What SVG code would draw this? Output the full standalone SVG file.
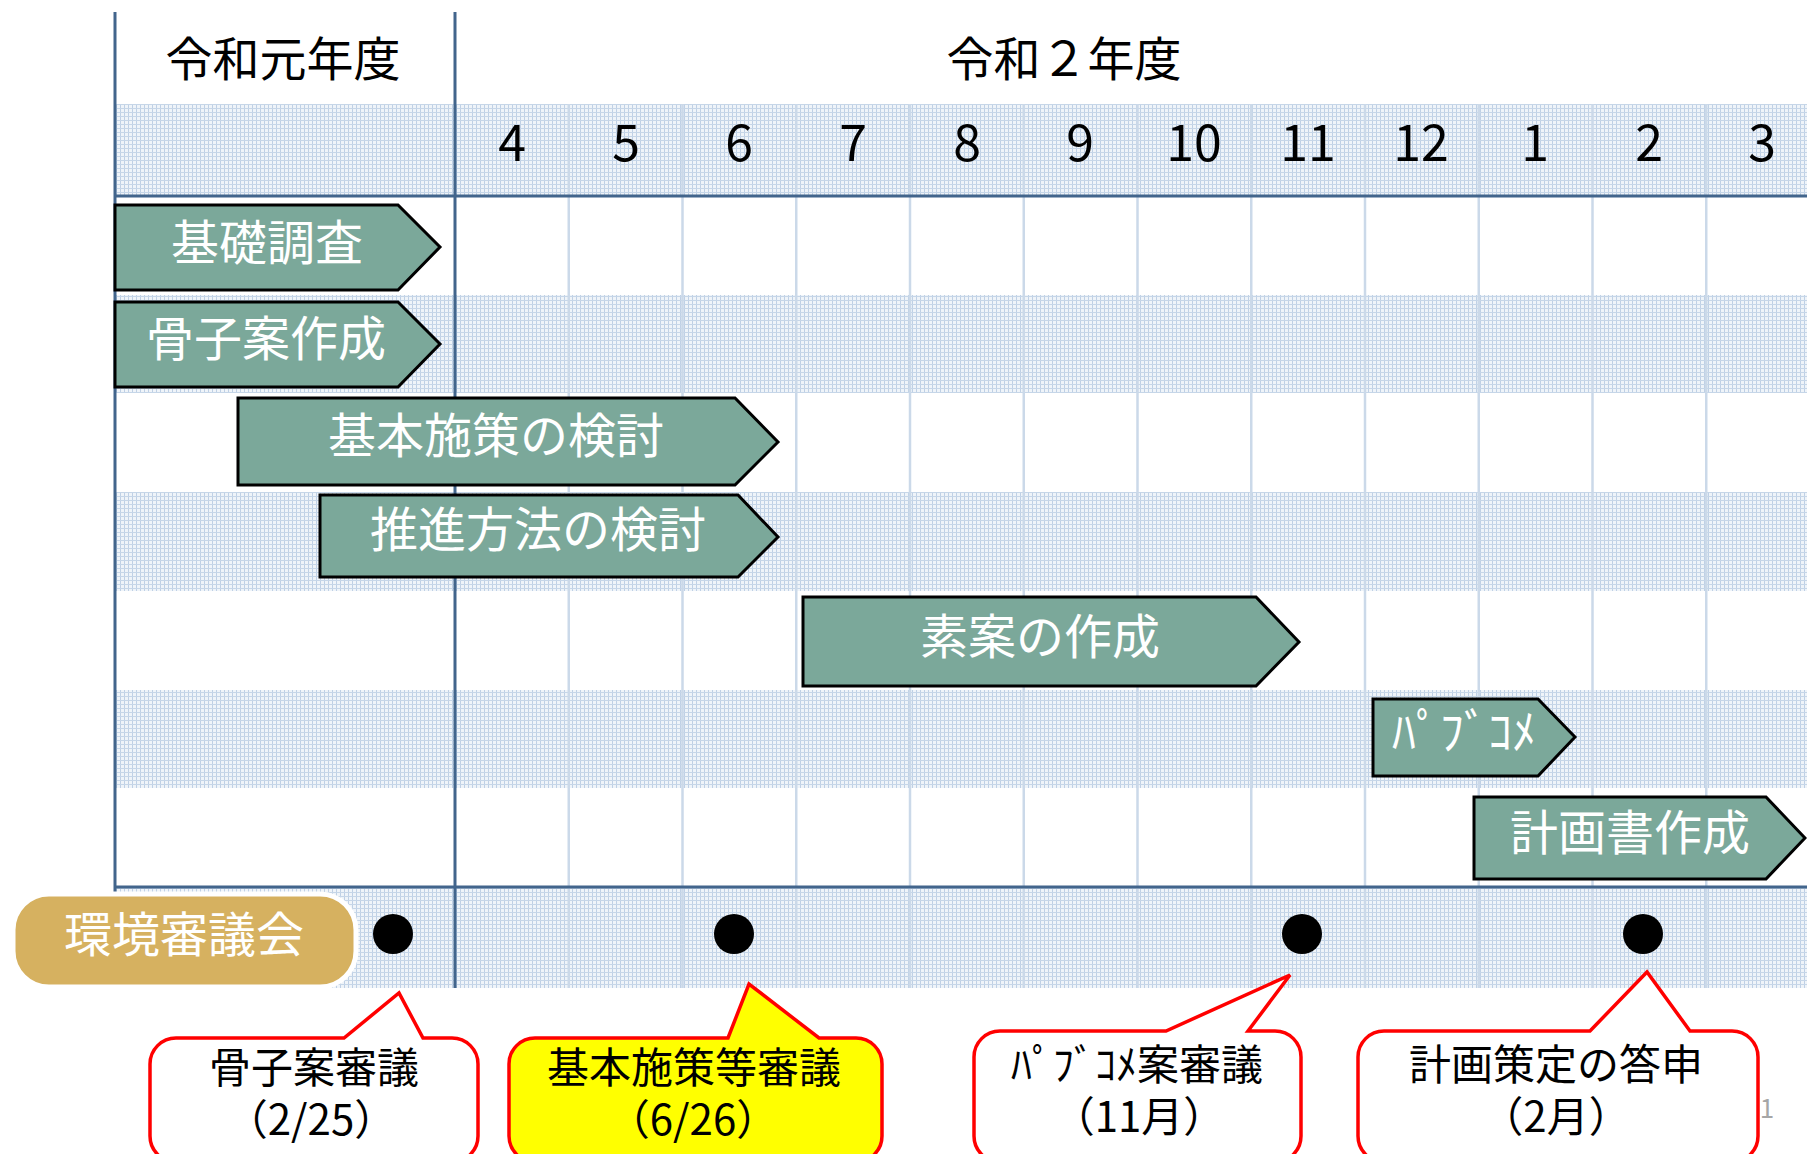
<svg xmlns="http://www.w3.org/2000/svg" width="1807" height="1154" viewBox="0 0 1807 1154">
<style>
text{font-family:"Noto Sans CJK JP","Noto Sans",sans-serif;text-anchor:middle;dominant-baseline:central}
.yr{font-size:47px;fill:#000}
.mo{font-size:50px;fill:#000}
.bar path{fill:#7ba89a;stroke:#000;stroke-width:3;stroke-linejoin:miter}
.bar text{font-size:48px;fill:#fff}
.co path{stroke:#ff0000;stroke-width:3.5;stroke-linejoin:miter}
.co text{font-size:42px;fill:#000}
.grid{stroke:#cbd9e9;stroke-width:2.5}
.main{stroke:#42658c;stroke-width:3;fill:none}
.dot{fill:#000}
</style>
<defs>
<pattern id="hatch" width="4" height="4" patternUnits="userSpaceOnUse">
<rect width="4" height="4" fill="#eff4f9"/>
<rect x="0" y="0" width="1" height="4" fill="#bfd0e5"/>
<rect x="0" y="0" width="4" height="1" fill="#c6d6e8"/>
</pattern>
</defs>
<rect width="1807" height="1154" fill="#fff"/>
<g id="bands" fill="url(#hatch)">
<rect x="115" y="104" width="1692" height="92"/>
<rect x="115" y="295" width="1692" height="98"/>
<rect x="115" y="492" width="1692" height="99"/>
<rect x="115" y="690" width="1692" height="98"/>
<rect x="115" y="887" width="1692" height="101"/>
</g>
<g id="gridlines" class="grid">
<line x1="568.75" y1="104" x2="568.75" y2="988"/>
<line x1="682.5" y1="104" x2="682.5" y2="988"/>
<line x1="796.25" y1="104" x2="796.25" y2="988"/>
<line x1="910" y1="104" x2="910" y2="988"/>
<line x1="1023.75" y1="104" x2="1023.75" y2="988"/>
<line x1="1137.5" y1="104" x2="1137.5" y2="988"/>
<line x1="1251.25" y1="104" x2="1251.25" y2="988"/>
<line x1="1365" y1="104" x2="1365" y2="988"/>
<line x1="1478.75" y1="104" x2="1478.75" y2="988"/>
<line x1="1592.5" y1="104" x2="1592.5" y2="988"/>
<line x1="1706.25" y1="104" x2="1706.25" y2="988"/>
</g>
<g id="frame" class="main">
<line x1="115" y1="12" x2="115" y2="988"/>
<line x1="455" y1="12" x2="455" y2="988"/>
<line x1="115" y1="196" x2="1807" y2="196"/>
<line x1="115" y1="887" x2="1807" y2="887"/>
</g>
<g id="headers">
<text class="yr" x="283" y="55">令和元年度</text>
<text class="yr" x="1064" y="55">令和２年度</text>
<text class="mo" x="512" y="139">4</text>
<text class="mo" x="626" y="139">5</text>
<text class="mo" x="739" y="139">6</text>
<text class="mo" x="853" y="139">7</text>
<text class="mo" x="967" y="139">8</text>
<text class="mo" x="1080" y="139">9</text>
<text class="mo" x="1194" y="139">10</text>
<text class="mo" x="1308" y="139">11</text>
<text class="mo" x="1421" y="139">12</text>
<text class="mo" x="1535" y="139">1</text>
<text class="mo" x="1649" y="139">2</text>
<text class="mo" x="1762" y="139">3</text>
</g>
<g id="bar1" class="bar"><path d="M115,205 H398 L440,247 L398,290 H115 Z"/><text x="267" y="239">基礎調査</text></g>
<g id="bar2" class="bar"><path d="M115,302 H398 L440,344 L398,387 H115 Z"/><text x="266" y="335">骨子案作成</text></g>
<g id="bar3" class="bar"><path d="M238,398 H735 L778,442 L735,485 H238 Z"/><text x="496" y="432">基本施策の検討</text></g>
<g id="bar4" class="bar"><path d="M320,495 H738 L778,537 L738,577 H320 Z"/><text x="538" y="526">推進方法の検討</text></g>
<g id="bar5" class="bar"><path d="M803,597 H1256 L1299,642 L1256,686 H803 Z"/><text x="1040" y="633">素案の作成</text></g>
<g id="bar6" class="bar"><path d="M1373,699 H1538 L1575,737 L1538,776 H1373 Z"/><text x="1464" y="728">ﾊﾟﾌﾞｺﾒ</text></g>
<g id="bar7" class="bar"><path d="M1474,797 H1766 L1805,838 L1766,879 H1474 Z"/><text x="1630" y="829">計画書作成</text></g>
<g id="council">
<rect x="13" y="894" width="343" height="93" rx="36" ry="36" fill="#d6b160" stroke="#fff" stroke-width="5"/>
<text x="184" y="931" style="font-size:48px;fill:#fff">環境審議会</text>
</g>
<g id="dots">
<circle class="dot" cx="393" cy="934" r="20"/>
<circle class="dot" cx="734" cy="934" r="20"/>
<circle class="dot" cx="1302" cy="934" r="20"/>
<circle class="dot" cx="1643" cy="934" r="20"/>
</g>
<g id="callout1" class="co">
<path fill="#fff" d="M176,1038 H344 L399,993 L423,1038 H452 A26,26 0 0 1 478,1064 V1136 A26,26 0 0 1 452,1162 H176 A26,26 0 0 1 150,1136 V1064 A26,26 0 0 1 176,1038 Z"/>
<text><tspan x="314" y="1064">骨子案審議</tspan><tspan x="311" y="1116">（2/25）</tspan></text>
</g>
<g id="callout2" class="co">
<path fill="#ffff00" d="M535,1038 H728 L749,984 L819,1038 H856 A26,26 0 0 1 882,1064 V1136 A26,26 0 0 1 856,1162 H535 A26,26 0 0 1 509,1136 V1064 A26,26 0 0 1 535,1038 Z"/>
<text><tspan x="694" y="1064">基本施策等審議</tspan><tspan x="693" y="1116">（6/26）</tspan></text>
</g>
<g id="callout3" class="co">
<path fill="#fff" d="M1000,1031 H1166 L1290,975 L1248,1031 H1275 A26,26 0 0 1 1301,1057 V1136 A26,26 0 0 1 1275,1162 H1000 A26,26 0 0 1 974,1136 V1057 A26,26 0 0 1 1000,1031 Z"/>
<text><tspan x="1137" y="1061">ﾊﾟﾌﾞｺﾒ案審議</tspan><tspan x="1139" y="1113">（11月）</tspan></text>
</g>
<g id="callout4" class="co">
<path fill="#fff" d="M1384,1031 H1590 L1647,972 L1690,1031 H1732 A26,26 0 0 1 1758,1057 V1136 A26,26 0 0 1 1732,1162 H1384 A26,26 0 0 1 1358,1136 V1057 A26,26 0 0 1 1384,1031 Z"/>
<text><tspan x="1556" y="1061">計画策定の答申</tspan><tspan x="1556" y="1113">（2月）</tspan></text>
</g>
<text x="1767" y="1106" style="font-size:26px;fill:#a6a6a6">1</text>
</svg>
